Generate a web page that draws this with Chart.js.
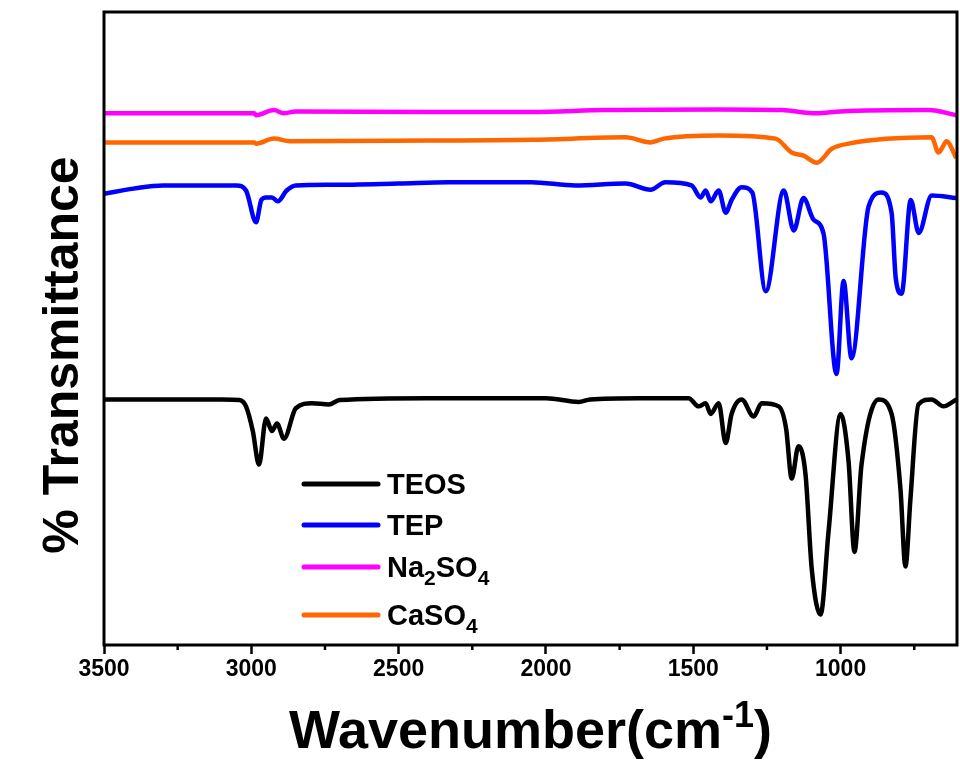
<!DOCTYPE html>
<html>
<head>
<meta charset="utf-8">
<title>FTIR</title>
<script src="https://cdn.jsdelivr.net/npm/chart.js@4.4.0/dist/chart.umd.min.js"></script>
<style>
body { margin: 0; background: #fff; }
#wrap { width: 960px; height: 760px; }
</style>
</head>
<body>
<div id="wrap"><canvas id="ftir" width="960" height="760"></canvas></div>
<script>
// wavenumber (cm-1) and offset transmittance for each sample
var teosWn = [3500, 3100, 3040, 3018, 2995, 2974, 2950, 2930, 2913, 2889, 2849, 2794, 2737, 2700, 2400, 2000, 1889, 1850, 1685,
	1516, 1482, 1458, 1441, 1414, 1390, 1370, 1336, 1295, 1268, 1210, 1185, 1166, 1143, 1119, 1098, 1068, 1041, 1000,
	973, 953, 929, 871, 827, 797, 780, 763, 736, 691, 651, 607];
var teosT = [38.8, 38.8, 38.7, 37.7, 33.8, 28.5, 35.8, 33.8, 35.0, 32.6, 37.4, 38.2, 38.0, 38.7, 39.0, 39.0, 38.4, 38.8, 39.0,
	39.0, 37.7, 38.2, 36.5, 38.2, 31.9, 36.5, 38.8, 36.1, 38.2, 37.7, 34.2, 26.3, 31.4, 26.9, 12.0, 4.8, 17.9, 36.5,
	29.0, 14.7, 28.5, 38.8, 36.5, 24.7, 12.4, 23.1, 38.0, 38.8, 37.7, 38.8];

var tepWn = [3500, 3400, 3300, 3050, 3018, 2984, 2966, 2950, 2930, 2910, 2880, 2849, 2730, 2500, 2330, 2050, 1900, 1730,
	1645, 1595, 1506, 1475, 1458, 1441, 1414, 1390, 1370, 1336, 1300, 1254, 1193, 1159, 1126, 1092, 1058, 1014, 990,
	963, 905, 861, 827, 813, 793, 762, 735, 691, 607];
var tepT = [71.3, 72.1, 72.6, 72.6, 71.8, 66.8, 70.3, 70.7, 70.7, 70.1, 71.8, 72.6, 72.7, 72.9, 73.1, 73.1, 72.6, 72.9,
	71.9, 73.1, 72.6, 70.7, 71.8, 70.1, 71.8, 68.3, 70.3, 72.3, 71.5, 55.9, 71.8, 65.5, 70.6, 67.2, 65.0, 42.8, 57.5,
	45.3, 69.3, 71.5, 68.3, 58.0, 55.5, 70.3, 65.1, 71.0, 70.6];

var naWn = [3500, 2990, 2984, 2923, 2890, 2850, 2400, 2050, 1800, 1414, 1200, 1081, 1000, 700, 607];
var naT = [84.0, 84.0, 83.7, 84.5, 84.0, 84.3, 84.2, 84.2, 84.5, 84.6, 84.5, 84.0, 84.3, 84.5, 83.7];

var caWn = [3500, 2990, 2984, 2923, 2870, 2400, 2050, 1730, 1645, 1600, 1414, 1221, 1166, 1126, 1081, 1030, 973, 691,
	668, 651, 641, 607];
var caT = [79.4, 79.4, 79.2, 80.0, 79.6, 79.7, 79.8, 80.2, 79.4, 80.0, 80.5, 80.0, 77.8, 77.3, 76.2, 78.4, 79.2, 80.2,
	77.8, 78.9, 79.6, 76.9];

var seriesLabels = ["TEOS", "TEP", "Na2SO4", "CaSO4"];
var seriesColors = ["#000000", "#0000FF", "#FF00FF", "#FF6600"];

var xTicks = [3500, 3000, 2500, 2000, 1500, 1000];
var xMinorTicks = [3250, 2750, 2250, 1750, 1250, 750];

var FONT = '"Liberation Sans", Arial, sans-serif';

function toPoints(wn, t){
	return wn.map(function(w, i){ return {x: w, y: t[i]}; });
}

// write a label with every digit dropped as a subscript
function drawChem(ctx, text, x, y, size){
	for (var i = 0; i < text.length; i++){
		var ch = text[i];
		if (/[0-9]/.test(ch)){
			ctx.font = 'bold ' + Math.round(size * 0.72) + 'px ' + FONT;
			ctx.fillText(ch, x, y + size * 0.28);
		}
		else{
			ctx.font = 'bold ' + size + 'px ' + FONT;
			ctx.fillText(ch, x, y);
		}
		x += ctx.measureText(ch).width;
	}
}

var frame = {
	id: 'frame',
	afterDraw: function(chart){
		var ctx = chart.ctx;
		var a = chart.chartArea;
		var xs = chart.scales.x;
		ctx.save();
		ctx.strokeStyle = '#000';
		ctx.lineWidth = 3;
		ctx.strokeRect(a.left, a.top, a.right - a.left, a.bottom - a.top);

		// short minor ticks between the labelled ones
		ctx.lineWidth = 2.5;
		xMinorTicks.forEach(function(v){
			var px = xs.getPixelForValue(v);
			ctx.beginPath();
			ctx.moveTo(px, a.bottom);
			ctx.lineTo(px, a.bottom + 5);
			ctx.stroke();
		});

		// legend sits inside the plot, bottom left
		var rows = [484, 525, 567, 615];
		ctx.fillStyle = '#000';
		ctx.textAlign = 'left';
		ctx.textBaseline = 'alphabetic';
		chart.data.datasets.forEach(function(ds, i){
			ctx.strokeStyle = ds.borderColor;
			ctx.lineWidth = 5;
			ctx.lineCap = 'round';
			ctx.beginPath();
			ctx.moveTo(304, rows[i]);
			ctx.lineTo(378, rows[i]);
			ctx.stroke();
			drawChem(ctx, ds.label, 387, rows[i] + 10, 29);
		});

		// x title with superscript
		var big = 'bold 54px ' + FONT;
		var sup = 'bold 36px ' + FONT;
		ctx.font = big;
		var w1 = ctx.measureText('Wavenumber(cm').width;
		var w3 = ctx.measureText(')').width;
		ctx.font = sup;
		var w2 = ctx.measureText('-1').width;
		var cx = (a.left + a.right) / 2;
		var x0 = cx - (w1 + w2 + w3) / 2;
		var base = 748;
		ctx.font = big;
		ctx.fillText('Wavenumber(cm', x0, base);
		ctx.font = sup;
		ctx.fillText('-1', x0 + w1, base - 21);
		ctx.font = big;
		ctx.fillText(')', x0 + w1 + w2, base);

		// y title
		ctx.translate(78, 355);
		ctx.rotate(-Math.PI / 2);
		ctx.textAlign = 'center';
		ctx.font = 'bold 50px ' + FONT;
		ctx.fillText('% Transmittance', 0, 0);
		ctx.restore();
	}
};

var datasets = [
	toPoints(teosWn, teosT),
	toPoints(tepWn, tepT),
	toPoints(naWn, naT),
	toPoints(caWn, caT)
].map(function(pts, i){
	return {
		label: seriesLabels[i],
		data: pts,
		borderColor: seriesColors[i],
		backgroundColor: seriesColors[i],
		borderWidth: 4.5,
		pointRadius: 0,
		fill: false,
		cubicInterpolationMode: 'monotone'
	};
});

var ftir = new Chart(document.getElementById('ftir').getContext('2d'), {
	type: 'line',
	data: { datasets: datasets },
	options: {
		responsive: false,
		animation: false,
		layout: { padding: { left: 104, right: 3, top: 12, bottom: 0 } },
		plugins: {
			legend: { display: false },
			tooltip: { enabled: false }
		},
		scales: {
			x: {
				type: 'linear',
				reverse: true,
				min: 605,
				max: 3500,
				afterBuildTicks: function(scale){
					scale.ticks = xTicks.map(function(v){ return {value: v}; });
				},
				afterFit: function(scale){
					scale.height = 115;
				},
				border: { display: false },
				grid: {
					drawOnChartArea: false,
					drawTicks: true,
					tickLength: 9,
					tickWidth: 2.5,
					tickColor: '#000',
					color: 'rgba(0,0,0,0)'
				},
				ticks: {
					color: '#000',
					padding: 2,
					maxRotation: 0,
					autoSkip: false,
					font: { family: FONT, size: 23, weight: 'bold' },
					callback: function(value){ return String(value); }
				}
			},
			y: {
				display: false,
				min: 0,
				max: 100
			}
		}
	},
	plugins: [frame]
});
</script>
</body>
</html>
